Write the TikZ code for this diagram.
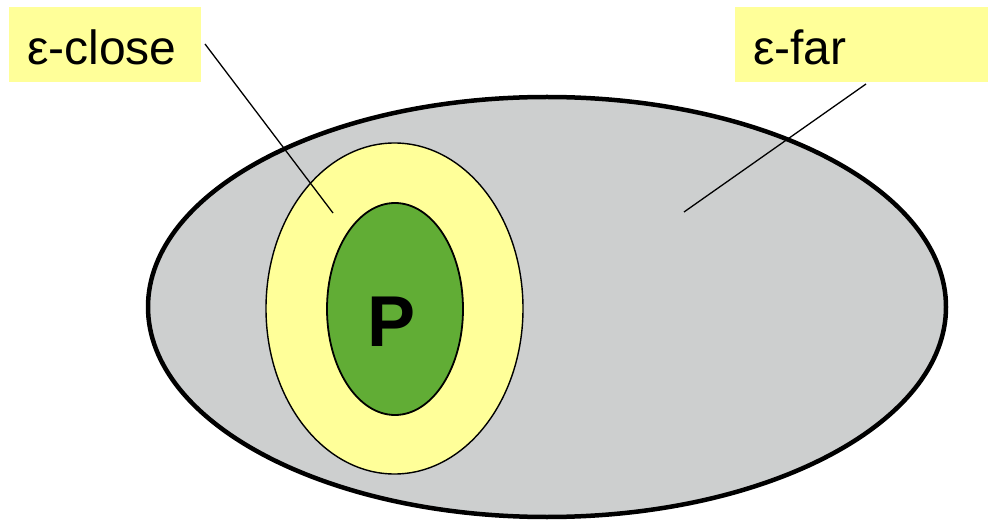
\documentclass[tikz,border=0pt]{standalone}
\usepackage{fontspec}
\setmainfont{Liberation Sans}
\usetikzlibrary{shapes.geometric}
\definecolor{lblyellow}{RGB}{255,255,153}
\definecolor{ovalgray}{RGB}{205,207,207}
\definecolor{pgreen}{RGB}{97,173,53}
\tikzset{
  lbl/.style={fill=lblyellow, inner sep=0pt, anchor=north west},
  lbltext/.style={font=\fontsize{48}{52}\selectfont, anchor=base west, inner sep=0pt},
  pointer/.style={draw=black, line width=1.3pt},
}
\begin{document}
\begin{tikzpicture}[x=1pt,y=-1pt]
\useasboundingbox (0,0) rectangle (988,521);
% big ellipse
\draw[fill=ovalgray, line width=4.5pt] (547,307) ellipse [x radius=399, y radius=210];
% yellow ellipse
\draw[fill=lblyellow, line width=1.4pt] (394.5,308.5) ellipse [x radius=128.5, y radius=165.5];
% green ellipse
\draw[fill=pgreen, line width=1.8pt] (395,309) ellipse [x radius=68, y radius=106];
\node[font=\fontsize{72}{76}\bfseries, inner sep=0pt] (p) at (392,322) {P};
% label boxes
\fill[lblyellow] (9,7) rectangle (201,82);
\fill[lblyellow] (735,7) rectangle (988,82);
\node[lbltext] (close) at (27,65) {ε-close};
\node[lbltext] (far) at (753,65) {ε-far};
\coordinate (c1) at (205,44);
\coordinate (c2) at (333,213);
\coordinate (f1) at (866,84);
\coordinate (f2) at (684,212);
\draw[pointer] (c1) -- (c2);
\draw[pointer] (f1) -- (f2);
\end{tikzpicture}
\end{document}
